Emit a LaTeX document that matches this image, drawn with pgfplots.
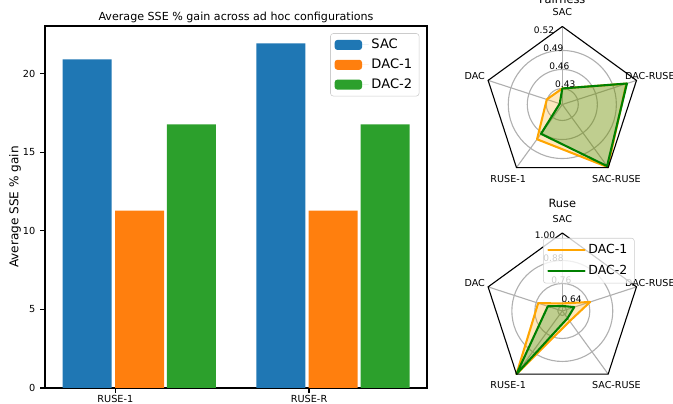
\documentclass[border=0pt]{standalone}
\usepackage{fontspec}
\setmainfont{DejaVu Sans}
\usepackage{pgfplots}
\usepackage{pgfplotstable}
\pgfplotsset{compat=1.18}

\definecolor{tabblue}{HTML}{1F77B4}
\definecolor{taborange}{HTML}{FF7F0E}
\definecolor{tabgreen}{HTML}{2CA02C}
\definecolor{mplorange}{HTML}{FFA500}
\definecolor{mplgreen}{HTML}{008000}
\definecolor{gridgray}{HTML}{B0B0B0}
\definecolor{legframe}{HTML}{CCCCCC}

% Fairness radar (angle in degrees, value)
\pgfplotstableread{
a v
90  0.430
162 0.4305
234 0.4726
306 0.527
18  0.511
90  0.430
}\fairA
\pgfplotstableread{
a v
90  0.430
162 0.409
234 0.462
306 0.525
18  0.512
90  0.430
}\fairB
% Ruse radar
\pgfplotstableread{
a v
90  0.656
162 0.749
234 1.023
306 0.682
18  0.769
90  0.656
}\ruseA
\pgfplotstableread{
a v
90  0.643
162 0.696
234 1.023
306 0.663
18  0.682
90  0.643
}\ruseB

\pgfplotsset{
  barleg/.style={legend image code/.code={%
    \fill[##1,draw=none,fill opacity=1] (0pt,-3.6pt) rectangle (19.7pt,3.6pt);
    \path (0pt,0pt) -- (24.5pt,0pt);}},
  radar/.style={
    width=112.32pt, height=112.32pt, scale only axis,
    xmin=-1, xmax=1, ymin=-1, ymax=1,
    hide axis, clip=false,
  },
}

\begin{document}
\begin{tikzpicture}
%---------------- bar chart
\begin{axis}[
  at={(32.4pt,11.52pt)}, anchor=south west,
  width=275.04pt, height=260.64pt, scale only axis,
  xmin=-0.363, xmax=1.609, ymin=0, ymax=23.03,
  xtick={0,1}, xticklabels={RUSE-1,RUSE-R},
  ytick={0,5,10,15,20},
  tick align=outside, xtick pos=bottom, ytick pos=left,
  major tick length=3.5pt,
  every tick/.style={black, line width=0.8pt},
  axis line style={line width=0.8pt},
  ticklabel style={font=\fontsize{7}{8}\selectfont},
  xticklabel style={yshift=1.6pt},
  /pgf/number format/assume math mode=true,
  title={Average SSE \% gain across ad hoc configurations},
  every axis title/.style={font=\fontsize{8}{9}\selectfont, at={(0.5,1)}, anchor=base, yshift=3.96pt},
  ylabel={Average SSE \% gain},
  ylabel style={font=\fontsize{8.7}{10}\selectfont, at={(axis description cs:-0.0785,0.5)}, anchor=center},
  legend style={at={(0.98,0.98)}, anchor=north east, draw=legframe, rounded corners=2pt,
    fill=white, fill opacity=0.8, draw opacity=1, text opacity=1,
    font=\fontsize{9.4}{11}\selectfont, inner xsep=3pt, inner ysep=2pt,
    /tikz/row sep=1.8pt},
  legend cell align=left,
]
\addplot[ybar, bar width=0.253, bar shift=-0.145, fill=tabblue, draw=none, barleg]
  coordinates {(0,20.91) (1,21.93)};
\addplot[ybar, bar width=0.253, bar shift=0.125, fill=taborange, draw=none, barleg]
  coordinates {(0,11.29) (1,11.29)};
\addplot[ybar, bar width=0.253, bar shift=0.393, fill=tabgreen, draw=none, barleg]
  coordinates {(0,16.77) (1,16.77)};
\legend{SAC,DAC-1,DAC-2}
\end{axis}

%---------------- Fairness radar
\begin{axis}[radar, at={(348.70pt,159.48pt)}, anchor=south west]
\draw[gridgray, line width=0.8pt] (axis cs:0,0) circle[radius=0.205];
\draw[gridgray, line width=0.8pt] (axis cs:0,0) circle[radius=0.449];
\draw[gridgray, line width=0.8pt] (axis cs:0,0) circle[radius=0.693];
\draw[gridgray, line width=0.8pt] (axis cs:0,0) -- (axis cs:0,1);
\draw[gridgray, line width=0.8pt] (axis cs:0,0) -- (axis cs:-0.9511,0.3090);
\draw[gridgray, line width=0.8pt] (axis cs:0,0) -- (axis cs:-0.5878,-0.8090);
\draw[gridgray, line width=0.8pt] (axis cs:0,0) -- (axis cs:0.5878,-0.8090);
\draw[gridgray, line width=0.8pt] (axis cs:0,0) -- (axis cs:0.9511,0.3090);
\addplot[draw=mplorange, line width=1.5pt, fill=mplorange, fill opacity=0.25, line join=round, line cap=round]
  table[x expr={(\thisrow{v}-0.4047)/0.1232*cos(\thisrow{a})}, y expr={(\thisrow{v}-0.4047)/0.1232*sin(\thisrow{a})}] {\fairA};
\addplot[draw=mplgreen, line width=1.5pt, fill=mplgreen, fill opacity=0.25, line join=round, line cap=round]
  table[x expr={(\thisrow{v}-0.4047)/0.1232*cos(\thisrow{a})}, y expr={(\thisrow{v}-0.4047)/0.1232*sin(\thisrow{a})}] {\fairB};
\addplot[black, line width=0.8pt, forget plot] coordinates {(0,1) (-0.9511,0.3090) (-0.5878,-0.8090) (0.5878,-0.8090) (0.9511,0.3090) (0,1)};
\begin{scope}[every node/.style={font=\fontsize{6.5}{7}\selectfont, inner sep=0pt}]
\node at (axis cs:0.038,0.263) {0.43};
\node at (axis cs:-0.038,0.485) {0.46};
\node at (axis cs:-0.115,0.72) {0.49};
\node at (axis cs:-0.235,0.955) {0.52};
\end{scope}
\begin{scope}[every node/.style={font=\fontsize{6.9}{8}\selectfont, inner sep=0pt}]
\node at (axis cs:0,1.18) {SAC};
\node at (axis cs:-1.122,0.365) {DAC};
\node at (axis cs:-0.694,-0.955) {RUSE-1};
\node at (axis cs:0.694,-0.955) {SAC-RUSE};
\node at (axis cs:1.122,0.365) {DAC-RUSE};
\end{scope}
\node[font=\fontsize{8.2}{9}\selectfont, inner sep=0pt] at (axis cs:0,1.355) {Fairness};
\end{axis}

%---------------- Ruse radar
\begin{axis}[radar, at={(348.70pt,10.8pt)}, anchor=south west,
  legend image code/.code={\draw[#1, fill=none, line width=1.5pt, draw opacity=1] (0pt,0pt) -- (20.7pt,0pt); \path (0pt,0pt) -- (26pt,0pt);},
  legend style={at={(0.3765,0.968)}, anchor=north west, draw=legframe, rounded corners=2pt,
    fill=white, fill opacity=0.8, draw opacity=1, text opacity=1,
    font=\fontsize{9}{11}\selectfont, inner xsep=3pt, inner ysep=2.5pt,
    /tikz/row sep=3pt},
  legend cell align=left,
]
\draw[gridgray, line width=0.8pt] (axis cs:0,0) circle[radius=0.058];
\draw[gridgray, line width=0.8pt] (axis cs:0,0) circle[radius=0.353];
\draw[gridgray, line width=0.8pt] (axis cs:0,0) circle[radius=0.647];
\draw[gridgray, line width=0.8pt] (axis cs:0,0) -- (axis cs:0,1);
\draw[gridgray, line width=0.8pt] (axis cs:0,0) -- (axis cs:-0.9511,0.3090);
\draw[gridgray, line width=0.8pt] (axis cs:0,0) -- (axis cs:-0.5878,-0.8090);
\draw[gridgray, line width=0.8pt] (axis cs:0,0) -- (axis cs:0.5878,-0.8090);
\draw[gridgray, line width=0.8pt] (axis cs:0,0) -- (axis cs:0.9511,0.3090);
\addplot[draw=mplorange, line width=1.5pt, fill=mplorange, fill opacity=0.25, line join=round, line cap=round]
  table[x expr={(\thisrow{v}-0.6165)/0.407*cos(\thisrow{a})}, y expr={(\thisrow{v}-0.6165)/0.407*sin(\thisrow{a})}] {\ruseA};
\addplot[draw=mplgreen, line width=1.5pt, fill=mplgreen, fill opacity=0.25, line join=round, line cap=round]
  table[x expr={(\thisrow{v}-0.6165)/0.407*cos(\thisrow{a})}, y expr={(\thisrow{v}-0.6165)/0.407*sin(\thisrow{a})}] {\ruseB};
\addplot[black, line width=0.8pt, forget plot] coordinates {(0,1) (-0.9511,0.3090) (-0.5878,-0.8090) (0.5878,-0.8090) (0.9511,0.3090) (0,1)};
\begin{scope}[every node/.style={font=\fontsize{6.5}{7}\selectfont, inner sep=0pt}]
\node at (axis cs:0.12,0.154) {0.64};
\node at (axis cs:-0.012,0.40) {0.76};
\node at (axis cs:-0.113,0.68) {0.88};
\node at (axis cs:-0.222,0.975) {1.00};
\end{scope}
\begin{scope}[every node/.style={font=\fontsize{6.9}{8}\selectfont, inner sep=0pt}]
\node at (axis cs:0,1.18) {SAC};
\node at (axis cs:-1.122,0.365) {DAC};
\node at (axis cs:-0.694,-0.955) {RUSE-1};
\node at (axis cs:0.694,-0.955) {SAC-RUSE};
\node at (axis cs:1.122,0.365) {DAC-RUSE};
\end{scope}
\node[font=\fontsize{8.2}{9}\selectfont, inner sep=0pt] at (axis cs:0,1.385) {Ruse};
\legend{DAC-1,DAC-2}
\end{axis}

\pgfresetboundingbox
\useasboundingbox (0pt,0pt) rectangle (484.56pt,290.88pt);
\end{tikzpicture}
\end{document}
